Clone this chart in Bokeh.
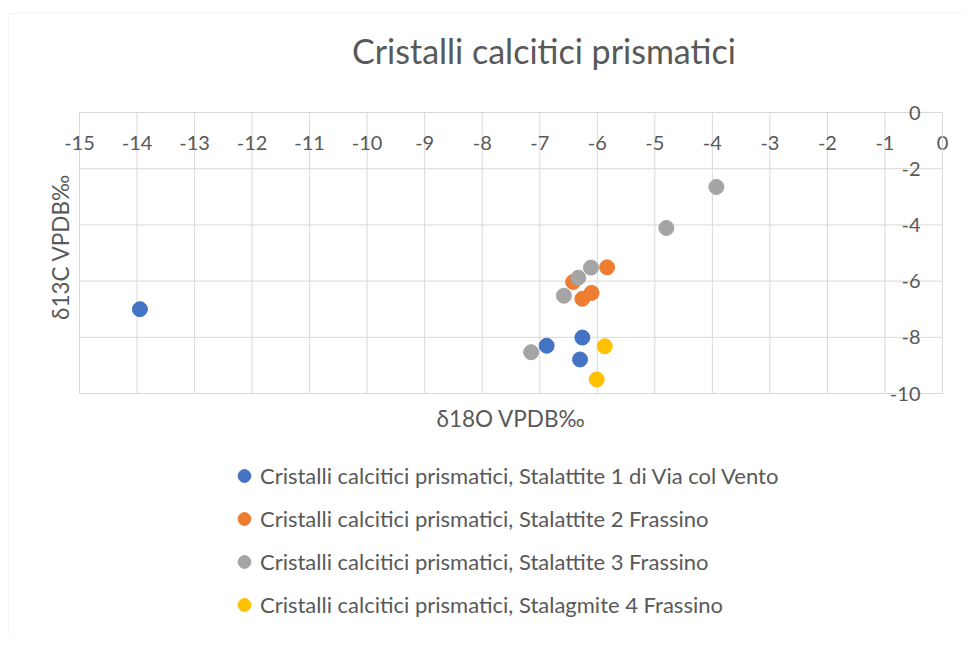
from bokeh.plotting import figure
from bokeh.models import Range1d, FixedTicker, Label, PrintfTickFormatter, BoxAnnotation
from bokeh.embed import file_html
from bokeh.resources import INLINE
from math import pi

# ---- data ----
title_text = "Cristalli calcitici prismatici"
x_title = "δ18O VPDB‰"
y_title = "δ13C VPDB‰"
x_ticks = list(range(-15, 1))
y_ticks = [0, -2, -4, -6, -8, -10]

series_names = [
    "Cristalli calcitici prismatici, Stalattite 1 di Via col Vento",
    "Cristalli calcitici prismatici, Stalattite 2 Frassino",
    "Cristalli calcitici prismatici, Stalattite 3 Frassino",
    "Cristalli calcitici prismatici, Stalagmite 4 Frassino",
]
s1_x = [-13.95, -6.88, -6.26, -6.30]
s1_y = [-7.00, -8.30, -8.01, -8.79]
s2_x = [-5.83, -6.42, -6.10, -6.26]
s2_y = [-5.51, -6.03, -6.42, -6.63]
s3_x = [-3.93, -4.80, -6.11, -6.33, -6.58, -7.15]
s3_y = [-2.65, -4.11, -5.52, -5.88, -6.52, -8.53]
s4_x = [-5.87, -6.01]
s4_y = [-8.32, -9.50]
colors = ["#4472C4", "#ED7D31", "#A5A5A5", "#FFC000"]

# ---- layout (pixels) ----
W, H = 962, 634
PX_LEFT, PX_RIGHT = 79, 942     # pixel columns of x=-15 and x=0
PY_TOP, PY_BOTTOM = 112, 393    # pixel rows of y=0 and y=-10
xmin, xmax = min(x_ticks), max(x_ticks)
ymin, ymax = min(y_ticks), max(y_ticks)
kx = (PX_RIGHT - PX_LEFT) / (xmax - xmin)
ky = (PY_BOTTOM - PY_TOP) / (ymax - ymin)
x_start = xmin - PX_LEFT / kx
x_end = xmax + (W - PX_RIGHT) / kx
y_end = ymax + PY_TOP / ky
y_start = ymin - (H - PY_BOTTOM) / ky

FONT = "Lato"
TXT = "#595959"
GRID = "#d9d9d9"

p = figure(width=W, height=H, output_backend="svg", toolbar_location=None,
           x_range=Range1d(x_start, x_end), y_range=Range1d(y_start, y_end),
           min_border=0)
p.title.visible = False
p.outline_line_color = None
p.background_fill_color = "white"
p.border_fill_color = "white"
p.xgrid.visible = False
p.ygrid.visible = False

# chart-area border (left/top edges visible)
p.add_layout(BoxAnnotation(left=x_start + 8 / kx, top=y_end - 13 / ky,
                           right=x_end + 5, bottom=y_start - 5,
                           fill_alpha=0, line_color=GRID, line_width=1))

# gridlines from the tick lists
p.segment(x0=x_ticks, y0=[ymin] * len(x_ticks), x1=x_ticks, y1=[ymax] * len(x_ticks),
          line_color=GRID, line_width=1)
p.segment(x0=[xmin] * len(y_ticks), y0=y_ticks, x1=[xmax] * len(y_ticks), y1=y_ticks,
          line_color=GRID, line_width=1)

# axes crossing inside the plot area
p.xaxis.fixed_location = 0
p.yaxis.fixed_location = 0
p.xaxis.bounds = (xmin, xmax)
p.yaxis.bounds = (ymin, ymax)
p.xaxis.ticker = FixedTicker(ticks=x_ticks)
p.yaxis.ticker = FixedTicker(ticks=y_ticks)
for ax in (p.xaxis, p.yaxis):
    ax.formatter = PrintfTickFormatter(format="%d")
    ax.axis_line_color = GRID
    ax.major_tick_line_color = None
    ax.minor_tick_line_color = None
    ax.major_tick_out = 0
    ax.major_tick_in = 0
    ax.major_label_text_font = FONT
    ax.major_label_text_font_size = "20px"
    ax.major_label_text_color = TXT
p.xaxis.major_label_standoff = 23
p.yaxis.major_label_standoff = 22

xs = [s1_x, s2_x, s3_x, s4_x]
ys = [s1_y, s2_y, s3_y, s4_y]
for xx, yy, c, name in zip(xs, ys, colors, series_names):
    p.scatter(xx, yy, size=15, marker="circle", fill_color=c, line_color=c, legend_label=name)

leg = p.legend[0]
leg.location = (228, 12)
leg.border_line_color = None
leg.background_fill_alpha = 0
leg.padding = 0
leg.margin = 0
leg.spacing = 8
leg.label_height = 35
leg.glyph_height = 35
leg.glyph_width = 32
leg.label_standoff = 0
leg.label_text_font = FONT
leg.label_text_font_size = "22px"
leg.label_text_color = TXT

p.add_layout(Label(x=(xmin + xmax) / 2, y=ymax, x_offset=33, y_offset=62, text=title_text,
                   text_font=FONT, text_font_size="34px", text_color=TXT,
                   text_align="center", text_baseline="middle"))
p.add_layout(Label(x=(xmin + xmax) / 2, y=ymin, y_offset=-25, text=x_title,
                   text_font=FONT, text_font_size="22.5px", text_color=TXT,
                   text_align="center", text_baseline="middle"))
p.add_layout(Label(x=xmin, y=(ymin + ymax) / 2, x_offset=-19, y_offset=6, text=y_title, angle=pi / 2,
                   text_font=FONT, text_font_size="22.5px", text_color=TXT,
                   text_align="center", text_baseline="middle"))

open("out.html", "w").write(file_html(p, INLINE))
